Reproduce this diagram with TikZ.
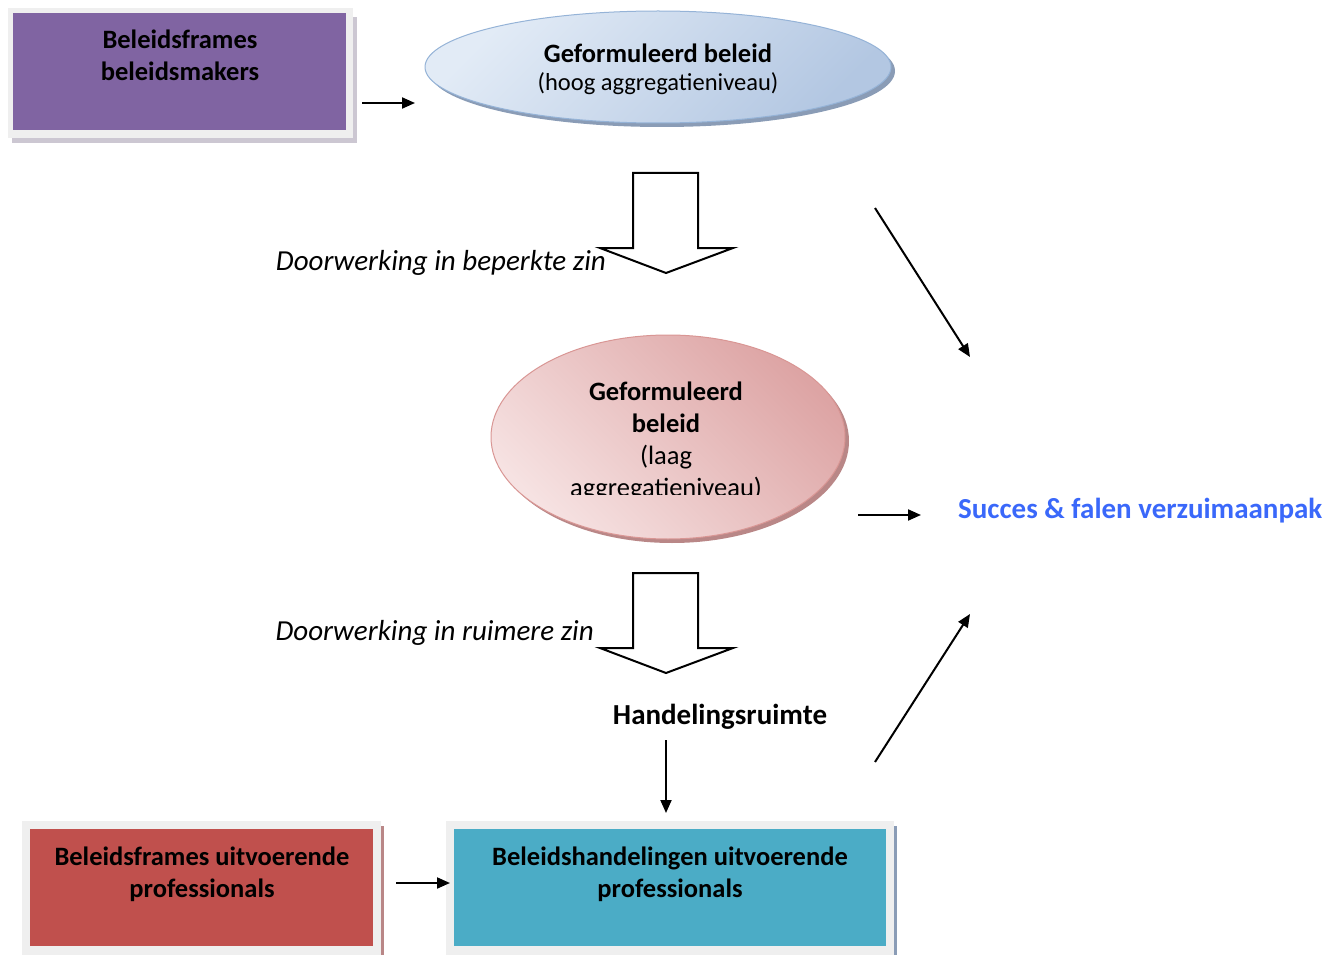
\documentclass[tikz,border=0pt]{standalone}
\usepackage{fontspec}
\setmainfont{Carlito}
\usetikzlibrary{shapes.geometric,arrows.meta}
\definecolor{purp}{HTML}{8064A2}
\definecolor{redbox}{HTML}{C0504D}
\definecolor{tealbox}{HTML}{4BACC6}
\definecolor{framegray}{HTML}{EFEFEF}
\definecolor{succblue}{RGB}{58,104,250}
\definecolor{blLight}{HTML}{E2EBF6}
\definecolor{blDark}{HTML}{B3C7E2}
\definecolor{blBorder}{HTML}{95B3D7}
\definecolor{blShadow}{HTML}{8A9CB6}
\definecolor{rdLight}{HTML}{F6E2E2}
\definecolor{rdDark}{HTML}{DDA4A4}
\definecolor{rdBorder}{HTML}{D99694}
\definecolor{rdShadow}{HTML}{B98787}
\begin{document}
\begin{tikzpicture}[x=1pt,y=-1pt,
  boxtext/.style={font=\fontsize{26.5}{32}\selectfont\bfseries, align=center, text=black, inner sep=0pt},
  freetext/.style={font=\fontsize{29}{32}\selectfont, inner sep=0pt},
  conn/.style={line width=2pt, -{Triangle[length=13pt,width=11pt]}},
  blockarrow/.style={draw=black, line width=2pt, fill=white, line join=miter}
]
\useasboundingbox (0,0) rectangle (1334,955);

% ---- purple box
\fill[gray!55!purp!40] (12,17) rectangle (357,143);
\fill[framegray] (8,8) rectangle (353,138);
\node[fill=purp, minimum width=333pt, minimum height=117pt, inner sep=0pt] (pb) at (179.5,71.5) {};
\node[boxtext, anchor=north] (pbt) at (180,29.5) {Beleidsframes\\beleidsmakers};

% ---- top ellipse
\node[ellipse, fill=blShadow, minimum width=466pt, minimum height=112pt] (e1s) at (662,71) {};
\node[ellipse, draw=blBorder, line width=1pt, top color=blLight, bottom color=blDark, shading angle=45, minimum width=466pt, minimum height=112pt] (e1) at (658,67) {};
\begin{scope}
\clip (430,20) rectangle (890,95);
\node[boxtext, anchor=north, font=\fontsize{26.5}{28}\selectfont] (e1t) at (658,43.5) {\textbf{Geformuleerd beleid}\\\fontsize{24.5}{28}\selectfont\mdseries(hoog aggregatieniveau)};
\end{scope}

% ---- arrow purple -> ellipse
\coordinate (a1s) at (362,103);
\coordinate (a1e) at (415,103);
\draw[conn] (a1s) -- (a1e);

% ---- block arrow 1
\draw[blockarrow] (633,173) -- (698,173) -- (698,248) -- (733,248) -- (666,273) -- (600,248) -- (633,248) -- cycle;
\node[freetext, font=\fontsize{29}{32}\selectfont\itshape, anchor=base east] (l1) at (606,270) {Doorwerking in beperkte zin};

% ---- diagonal arrow top
\coordinate (d1s) at (875,208);
\coordinate (d1e) at (970,357);
\draw[conn] (d1s) -- (d1e);

% ---- red ellipse
\node[ellipse, fill=rdShadow, minimum width=354pt, minimum height=204pt] (e2s) at (672,441) {};
\node[ellipse, draw=rdBorder, line width=1pt, top color=rdLight, bottom color=rdDark, shading angle=135, minimum width=354pt, minimum height=204pt] (e2) at (668,437) {};
\begin{scope}
\clip (500,360) rectangle (840,494);
\node[boxtext, anchor=north, font=\fontsize{26.5}{32}\selectfont] (e2t) at (666,381.5) {\textbf{Geformuleerd}\\\textbf{beleid}\\\mdseries(laag\\\mdseries aggregatieniveau)};
\end{scope}

% ---- arrow to succes
\coordinate (a2s) at (858,515);
\coordinate (a2e) at (921,515);
\draw[conn] (a2s) -- (a2e);
\node[freetext, font=\fontsize{29}{32}\selectfont\bfseries, text=succblue, anchor=base west] (succ) at (958,518) {Succes \& falen verzuimaanpak};

% ---- block arrow 2
\draw[blockarrow] (633,573) -- (698,573) -- (698,648) -- (733,648) -- (666,673) -- (600,648) -- (633,648) -- cycle;
\node[freetext, font=\fontsize{29}{32}\selectfont\itshape, anchor=base east] (l2) at (594,640) {Doorwerking in ruimere zin};

% ---- Handelingsruimte
\node[freetext, font=\fontsize{29}{32}\selectfont\bfseries, anchor=base] (hr) at (720,724) {Handelingsruimte};
\coordinate (a3s) at (666,740);
\coordinate (a3e) at (666,813);
\draw[conn] (a3s) -- (a3e);

% ---- diagonal arrow bottom
\coordinate (d2s) at (875,762);
\coordinate (d2e) at (970,614);
\draw[conn] (d2s) -- (d2e);

% ---- red box
\fill[rdShadow] (26,826) rectangle (384,960);
\fill[framegray] (22,821) rectangle (381,960);
\node[fill=redbox, minimum width=343pt, minimum height=117pt, inner sep=0pt] (rb) at (201.5,887.5) {};
\node[boxtext, anchor=north] (rbt) at (202,846.5) {Beleidsframes uitvoerende\\professionals};

% ---- teal box
\fill[blShadow] (450,826) rectangle (897,960);
\fill[framegray] (446,821) rectangle (894,960);
\node[fill=tealbox, minimum width=432pt, minimum height=117pt, inner sep=0pt] (tb) at (670,887.5) {};
\node[boxtext, anchor=north] (tbt) at (670,846.5) {Beleidshandelingen uitvoerende\\professionals};

% ---- arrow red -> teal
\coordinate (a4s) at (396,883);
\coordinate (a4e) at (450,883);
\draw[conn] (a4s) -- (a4e);
\end{tikzpicture}
\end{document}
